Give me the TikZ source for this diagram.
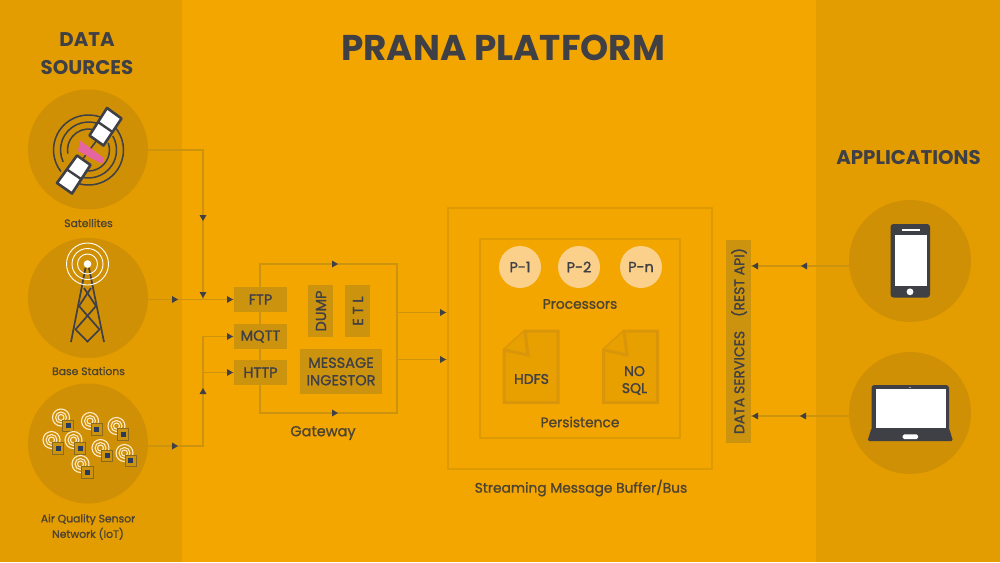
\documentclass[tikz,border=0pt]{standalone}
\usepackage{xcolor}
\usepackage{fontspec}
\setmainfont{Poppins}
\newfontfamily\labelfont[FakeBold=1.3]{Poppins}
\definecolor{mainbg}{HTML}{F4A600}
\definecolor{panelbg}{HTML}{E49D00}
\definecolor{discbg}{HTML}{D09006}
\definecolor{boxbg}{HTML}{CC930F}
\definecolor{framecol}{HTML}{DD9A04}
\definecolor{linecol}{HTML}{CC930F}
\definecolor{inkcol}{HTML}{3F3F46}
\definecolor{labelcol}{HTML}{4F4432}
\definecolor{procbg}{HTML}{FAD08A}
\definecolor{docbg}{HTML}{E89F00}
\definecolor{docline}{HTML}{D9960A}
\definecolor{ringcol}{HTML}{FDEBC8}
\definecolor{pinkcol}{HTML}{E4659F}
\definecolor{chipcol}{HTML}{8A6A1E}
\definecolor{navycol}{HTML}{2A3A5E}
\begin{document}
\begin{tikzpicture}[x=1pt,y=-1pt,every text node part/.style={align=center},
  disc/.style={circle,fill=discbg,minimum size=120pt},
  gwbox/.style={fill=boxbg,text=inkcol,font=\labelfont\fontsize{14.5}{17.5}\selectfont},
  gwtext/.style={text=inkcol,font=\labelfont\fontsize{14.5}{17.5}\selectfont,rotate=90},
  framebox/.style={draw=framecol,line width=2pt},
  procdisc/.style={circle,fill=procbg,text=inkcol,minimum size=42pt,font=\labelfont\fontsize{14.5}{15}\selectfont},
  caption/.style={text=labelcol,font=\labelfont\fontsize{10.8}{15.5}\selectfont},
  midcaption/.style={text=labelcol,font=\labelfont\fontsize{13.8}{16}\selectfont},
  heading/.style={text=inkcol,font=\bfseries\fontsize{19.8}{28}\selectfont},
  flowline/.style={draw=linecol,line width=1.5pt},
  tipfill/.style={fill=inkcol},
  doc/.style={fill=docbg,draw=docline,line width=3pt,line join=miter},
  arcline/.style={draw=inkcol,line width=1.5pt},
  ringline/.style={draw=white,line width=0.9pt},
  sensorring/.style={draw=ringcol,line width=1.1pt},
  chip/.style={fill=boxbg,draw=chipcol,line width=1pt},
  towerline/.style={draw=inkcol,line width=1.7pt}]
\tikzstyle{every node}+=[inner sep=0pt]
\useasboundingbox (0,0) rectangle (1000,562);
% panels
\fill [mainbg] (0,0) rectangle (1000,562);
\fill [panelbg] (0,0) rectangle (182,562);
\fill [panelbg] (816,0) rectangle (1000,562);
% headings
\draw (503,48) node (title) [heading,font=\bfseries\fontsize{35.8}{38}\selectfont] {PRANA PLATFORM};
\draw (87,53.5) node (srchead) [heading] {DATA\\SOURCES};
\draw (908.5,158) node (apphead) [heading] {APPLICATIONS};
% source discs
\draw (88,149.5) node (satdisc) [disc] {};
\draw (88,298) node (basedisc) [disc] {};
\draw (88,443.5) node (iotdisc) [disc] {};
\draw (88.5,223) node (satlabel) [caption] {Satellites};
\draw (88.5,371) node (baselabel) [caption] {Base Stations};
\draw (88,527) node (iotlabel) [caption] {Air Quality Sensor\\Network (IoT)};
% application discs
\draw (910,261) node (phonedisc) [disc,minimum size=122pt] {};
\draw (910,413) node (laptopdisc) [disc,minimum size=122pt] {};
% gateway loop goes under the boxes
\coordinate (gwtl) at (260,264);
\coordinate (gwtr) at (397,264);
\coordinate (gwbr) at (397,413);
\coordinate (gwbl) at (260,413);
\draw [flowline] (gwtl) -- (gwtr) -- (gwbr) -- (gwbl) -- cycle;
\fill [tipfill] (338,264) -- (332,260.5) -- (332,267.5);
\fill [tipfill] (338,413) -- (332,409.5) -- (332,416.5);
% gateway boxes
\draw (260.5,299.5) node (ftp) [gwbox,minimum width=53pt,minimum height=25pt] {FTP};
\draw (260.5,336.5) node (mqtt) [gwbox,minimum width=53pt,minimum height=25pt] {MQTT};
\draw (260.5,372.5) node (http) [gwbox,minimum width=53pt,minimum height=25pt] {HTTP};
\draw (320.5,311) node (dump) [gwbox,minimum width=25pt,minimum height=52pt] {};
\draw (321,311) node (dumptxt) [gwtext] {DUMP};
\draw (357.5,311) node (etl) [gwbox,minimum width=25pt,minimum height=52pt] {};
\draw (358,311) node (etltxt) [gwtext] {E T L};
\draw (341,371.5) node (ingestor) [gwbox,minimum width=82pt,minimum height=45pt] {MESSAGE\\INGESTOR};
\draw (323,433) node (gwlabel) [midcaption,font=\labelfont\fontsize{14.5}{16}\selectfont] {Gateway};
% streaming bus
\draw (580,338.5) node (busbox) [framebox,minimum width=264pt,minimum height=261pt] {};
\draw (580,338.5) node (procbox) [framebox,minimum width=200pt,minimum height=199pt] {};
\draw (581,488) node (buslabel) [midcaption] {Streaming Message Buffer/Bus};
\draw (520,267) node (p1) [procdisc] {P-1};
\draw (579,267) node (p2) [procdisc] {P-2};
\draw (641,267) node (pn) [procdisc] {P-n};
\draw (580,304) node (proclabel) [midcaption] {Processors};
\draw (580,422) node (perslabel) [midcaption] {Persistence};
% documents
\filldraw [doc] (525,331) -- (558,331) -- (558,402.5) -- (504,402.5) -- (504,350) -- cycle;
\filldraw [doc] (525,331) -- (528,355) -- (504,350);
\filldraw [doc] (624,331) -- (657.5,331) -- (657.5,402.5) -- (603.5,402.5) -- (603.5,350) -- cycle;
\filldraw [doc] (624,331) -- (627,355) -- (603.5,350);
\draw (531.5,379) node (hdfs) [text=inkcol,font=\labelfont\fontsize{14}{17}\selectfont] {HDFS};
\draw (634.5,380.5) node (nosql) [text=inkcol,font=\labelfont\fontsize{14}{17}\selectfont] {NO\\SQL};
% data services bar
\draw (738.5,341.5) node (dsbar) [fill=boxbg,minimum width=25pt,minimum height=203pt] {};
\draw (739,341) node (dstxt) [text=inkcol,font=\labelfont\fontsize{14}{15}\selectfont,rotate=90] {DATA SERVICES\hspace{1em}(REST API)};
% connectors from the sources
\coordinate (satturn) at (203,150);
\coordinate (satout) at (satdisc.east |- satturn);
\coordinate (basemeet) at (203,299.5);
\coordinate (baseout) at (148,299.5);
\coordinate (iotout) at (148,446);
\coordinate (iotturn) at (203,446);
\coordinate (mqttturn) at (203,336.5);
\coordinate (httpturn) at (203,372.5);
\draw [flowline] (satout) -- (satturn) -- (basemeet);
\draw [flowline] (baseout) -- (ftp.west);
\draw [flowline] (iotout) -- (iotturn) -- (mqttturn) -- (mqtt.west);
\draw [flowline] (httpturn) -- (http.west);
\fill [tipfill] (203,221) -- (199.5,215) -- (206.5,215);
\fill [tipfill] (203,298) -- (199.5,292) -- (206.5,292);
\fill [tipfill] (178,299.5) -- (172,296) -- (172,303);
\fill [tipfill] (233,299.5) -- (227,296) -- (227,303);
\fill [tipfill] (233,336.5) -- (227,333) -- (227,340);
\fill [tipfill] (233,372.5) -- (227,369) -- (227,376);
\fill [tipfill] (203,388) -- (199.5,394) -- (206.5,394);
\fill [tipfill] (178,446) -- (172,442.5) -- (172,449.5);
% gateway to bus
\coordinate (gwout) at (397,312.5);
\coordinate (gwoutb) at (397,359.5);
\draw [flowline] (gwout) -- (gwout -| busbox.west);
\draw [flowline] (gwoutb) -- (gwoutb -| busbox.west);
\fill [tipfill] (446,312.5) -- (440,309) -- (440,316);
\fill [tipfill] (446,359.5) -- (440,356) -- (440,363);
% applications to data services
\coordinate (phonein) at (849,266);
\coordinate (laptopin) at (849,416);
\draw [flowline,line width=1.2pt] (phonein) -- (phonein -| dsbar.east);
\draw [flowline,line width=1.2pt] (laptopin) -- (laptopin -| dsbar.east);
\fill [tipfill] (801,266) -- (807,262.5) -- (807,269.5);
\fill [tipfill] (752,266) -- (758,262.5) -- (758,269.5);
\fill [tipfill] (800,416) -- (806,412.5) -- (806,419.5);
\fill [tipfill] (752,416) -- (758,412.5) -- (758,419.5);
% satellite
\begin{scope}[shift={(88.5,150)},yscale=-1]
\draw [arcline] (63:35) arc (63:218:35);
\draw [arcline] (245:35) arc (-115:42:35);
\draw [arcline] (70:28) arc (70:205:28);
\draw [arcline] (250:28) arc (-110:30:28);
\draw [arcline] (80:21) arc (80:190:21);
\draw [arcline] (-100:21) arc (-100:20:21);
\end{scope}
\draw [inkcol,line width=1.5pt] (97,140) -- (82,160);
\filldraw [fill=white,draw=inkcol,line width=2.6pt,line join=round] (107,108) -- (121.5,118.5) -- (103.5,145.5) -- (89.5,135.5) -- cycle;
\draw [inkcol,line width=2.4pt] (98,122) -- (112.5,132);
\filldraw [fill=white,draw=inkcol,line width=2.6pt,line join=round] (77,155.5) -- (90.5,165) -- (72,193.5) -- (57,183) -- cycle;
\draw [inkcol,line width=2.4pt] (67,169.5) -- (81,179);
\fill [pinkcol] (80,140.5) -- (104,158) -- (102,164) -- (78,151) -- cycle;
% tower
\draw [towerline] (85.5,268) -- (71,342);
\draw [towerline] (89,268) -- (104,342);
\draw [towerline] (84,288) -- (96,306) -- (75,330);
\draw [towerline] (91,288) -- (79,306) -- (100,330);
\draw [towerline] (76,330) -- (88,342);
\draw [towerline] (99,330) -- (87,342);
\draw [ringline] (87.5,264) circle (10);
\draw [ringline] (87.5,264) circle (15.5);
\draw [ringline] (87.5,264) circle (21);
\fill [white] (87.5,264) circle (3.8);
% sensors
\draw [sensorring] (61,417.5) circle (3) circle (5.5) circle (8.5);
\filldraw [chip] (62.5,420) rectangle (73.5,431.5);
\fill [navycol] (65.5,423.2) rectangle (70.5,428.2);
\draw [sensorring] (90,421) circle (3) circle (5.5) circle (8.5);
\filldraw [chip] (91.2,423.5) rectangle (102.2,435);
\fill [navycol] (94.2,426.8) rectangle (99.2,431.8);
\draw [sensorring] (116.5,426) circle (3) circle (5.5) circle (8.5);
\filldraw [chip] (117.5,428.5) rectangle (128.5,440);
\fill [navycol] (120.5,431.5) rectangle (125.5,436.5);
\draw [sensorring] (51.5,440) circle (3) circle (5.5) circle (8.5);
\filldraw [chip] (52.5,442.5) rectangle (63.5,454);
\fill [navycol] (55.8,445.5) rectangle (60.8,450.5);
\draw [sensorring] (73.5,440) circle (3) circle (5.5) circle (8.5);
\filldraw [chip] (74.5,442.5) rectangle (85.5,454);
\fill [navycol] (77.5,445.5) rectangle (82.5,450.5);
\draw [sensorring] (100.5,448) circle (3) circle (5.5) circle (8.5);
\filldraw [chip] (101.5,450) rectangle (112.5,461.5);
\fill [navycol] (104.5,453.2) rectangle (109.5,458.2);
\draw [sensorring] (124.5,453) circle (3) circle (5.5) circle (8.5);
\filldraw [chip] (125,455) rectangle (136.5,466.5);
\fill [navycol] (128.2,458.2) rectangle (133.2,463.2);
\draw [sensorring] (80.5,464) circle (3) circle (5.5) circle (8.5);
\filldraw [chip] (81.5,466.5) rectangle (93,478);
\fill [navycol] (84.8,469.5) rectangle (89.8,474.5);
% phone
\fill [inkcol,rounded corners=3pt] (890.5,224) rectangle (930,297.5);
\fill [white] (894.5,235) rectangle (926.5,286);
\fill [white] (901.5,228.5) rectangle (920,231);
\fill [white] (910,291.8) circle (3.4);
% laptop
\fill [inkcol,rounded corners=3pt] (871.5,385) rectangle (949,432);
\fill [inkcol,rounded corners=1.5pt] (871.5,428) -- (949,428) -- (953,441) -- (867.5,441) -- cycle;
\fill [white] (875.5,389.3) rectangle (945.5,427.7);
\fill [white,rounded corners=1.5pt] (902.7,434.3) rectangle (918,439.2);
\fill [white] (910,387.5) circle (0.7);
\end{tikzpicture}
\end{document}
